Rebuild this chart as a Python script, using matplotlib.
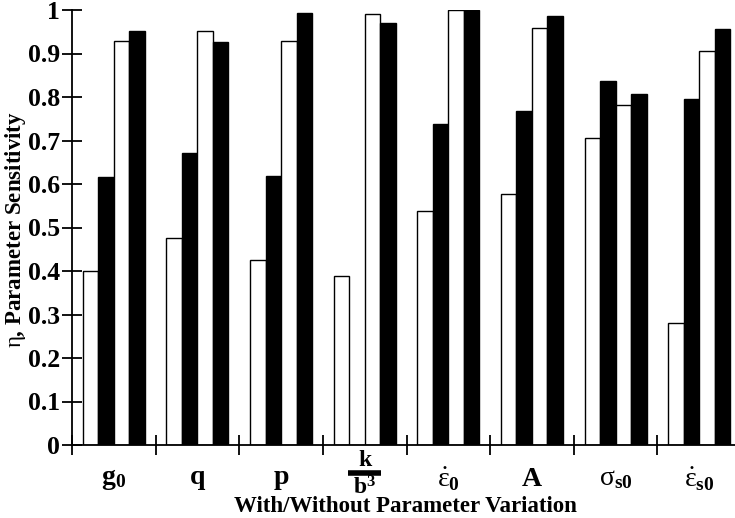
import matplotlib
matplotlib.use("Agg")
import matplotlib.pyplot as plt
import matplotlib.transforms as mtransforms
import numpy as np

plt.rcParams['font.family'] = ['Liberation Serif', 'DejaVu Serif']
plt.rcParams['mathtext.fontset'] = 'custom'
plt.rcParams['mathtext.rm'] = 'Liberation Serif'
plt.rcParams['mathtext.it'] = 'Liberation Serif:italic'
plt.rcParams['mathtext.bf'] = 'Liberation Serif:bold'

# Parameter groups (labels drawn below the axis)
categories = [r'$\mathbf{g}_{\mathbf{0}}$', r'$\mathbf{q}$', r'$\mathbf{p}$', 'k/b3',
              r'$\dot{\mathrm{\varepsilon}}_{\mathbf{0}}$', r'$\mathbf{A}$',
              r'$\mathrm{\sigma}_{\mathbf{s0}}$', r'$\dot{\mathrm{\varepsilon}}_{\mathbf{s0}}$']

# Sensitivity values, four bars per group (white, black, white, black)
bar1_white = [0.401, 0.477, 0.425, 0.389, 0.538, 0.577, 0.705, 0.280]
bar2_black = [0.617, 0.671, 0.618, 0.0, 0.739, 0.767, 0.837, 0.796]
bar3_white = [0.929, 0.952, 0.929, 0.991, 1.000, 0.958, 0.781, 0.905]
bar4_black = [0.952, 0.927, 0.994, 0.969, 1.000, 0.986, 0.806, 0.957]

yticks = [0, 0.1, 0.2, 0.3, 0.4, 0.5, 0.6, 0.7, 0.8, 0.9, 1]
ytick_labels = ['0', '0.1', '0.2', '0.3', '0.4', '0.5', '0.6', '0.7', '0.8', '0.9', '1']

W, H = 735, 518
fig = plt.figure(figsize=(W / 100, H / 100), dpi=100)
ax = fig.add_axes([72 / W, 73 / H, 669 / W, 435 / H])

n = len(categories)
x = np.arange(n) + 0.5
bw = 0.185
series = [(bar1_white, 'white'), (bar2_black, 'black'),
          (bar3_white, 'white'), (bar4_black, 'black')]
for i, (vals, col) in enumerate(series):
    offs = (i - 1.5) * bw
    ax.bar(x + offs, vals, width=bw, color=col, edgecolor='black',
           linewidth=1.0, zorder=2)

ax.set_xlim(0, n)
ax.set_ylim(0, 1)
ax.set_yticks(yticks)
ax.set_yticklabels(ytick_labels, fontsize=18.5, fontweight='bold')
ax.set_xticks(np.arange(n + 1))
ax.set_xticklabels([])
ax.tick_params(axis='both', direction='inout', length=15, width=1.3, color='black')
ax.tick_params(axis='y', pad=1)
for s in ['top', 'right']:
    ax.spines[s].set_visible(False)
for s in ['left', 'bottom']:
    ax.spines[s].set_linewidth(1.3)

# Group labels below the axis
trans = mtransforms.blended_transform_factory(ax.transData, fig.transFigure)
label_y = 1 - 479 / H
for xi, lab in zip(x, categories):
    if lab == 'k/b3':
        ax.text(xi, 1 - 461 / H, 'k', transform=trans, ha='center', va='center',
                fontsize=17, fontweight='bold')
        ax.plot([xi - 0.2, xi + 0.2], [1 - 473 / H] * 2, transform=trans,
                color='black', linewidth=4, clip_on=False, solid_capstyle='butt')
        ax.text(xi, 1 - 488 / H, r'b$^{\mathbf{3}}$', transform=trans, ha='center',
                va='center', fontsize=17, fontweight='bold')
    else:
        ax.text(xi, label_y, lab, transform=trans, ha='center', va='center',
                fontsize=20)

fig.text(405 / W, 1 - 506 / H, 'With/Without Parameter Variation', ha='center',
         va='center', fontsize=16.5, fontweight='bold')
fig.text(16 / W, 1 - 230 / H, r'$\mathrm{\eta}$, Parameter Sensitivity',
         rotation=90, ha='center', va='center', fontsize=16.5, fontweight='bold')

fig.savefig('out.png', dpi=100)
